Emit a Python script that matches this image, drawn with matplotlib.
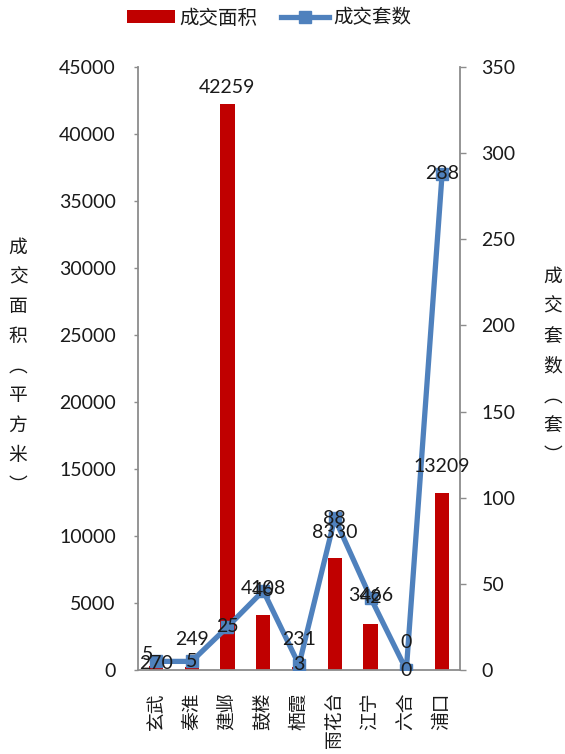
import matplotlib
matplotlib.use("Agg")
import matplotlib.pyplot as plt
from matplotlib.lines import Line2D
from matplotlib.patches import Patch

plt.rcParams['font.family'] = ['Lato', 'Noto Sans CJK SC', 'DejaVu Sans']

districts = ['玄武', '秦淮', '建邺', '鼓楼', '栖霞', '雨花台', '江宁', '六合', '浦口']
area = [270, 249, 42259, 4108, 231, 8330, 3466, 0, 13209]
units = [5, 5, 25, 46, 3, 88, 42, 0, 288]
area_ticks = list(range(0, 45001, 5000))
unit_ticks = list(range(0, 351, 50))

# label offsets (pixels) -- styling only
area_lbl_dy = [3, 27, 16, 26, 27, 26, 28, 27, 26]
unit_lbl_off = [(-8, 7), (0, 0), (0, 0), (0, 0), (0, 0), (0, 0), (0, 0), (0, 0), (0, 0)]

RED = '#C00000'
BLUE = '#4F81BD'
GRAY = '#8C8C8C'
TXT = '#1A1A1A'
PX = 72 / 100.0

fig = plt.figure(figsize=(5.65, 7.54), dpi=100)
ax = fig.add_axes([138 / 565, 84 / 754, 322 / 565, 603 / 754])
ax2 = ax.twinx()

x = list(range(len(districts)))
ax.bar(x, area, width=0.4, color=RED, zorder=2)
ax.set_xlim(-0.5, len(districts) - 0.5)
ax.set_ylim(0, 45000)
ax.set_yticks(area_ticks)
ax.set_yticklabels([str(t) for t in area_ticks])
ax.set_xticks(x)
ax.set_xticklabels(districts, rotation=90, fontsize=13.5, color=TXT,
                   family=['Noto Sans CJK SC'])

ax2.plot(x, units, color=BLUE, lw=3.8, marker='s', ms=8, mfc=BLUE, mec=BLUE,
         solid_joinstyle='round', zorder=3)
ax2.set_ylim(0, 350)
ax2.set_yticks(unit_ticks)
ax2.set_yticklabels([str(t) for t in unit_ticks])

for a in (ax, ax2):
    a.set_facecolor('none')
    a.spines['top'].set_visible(False)
    for s in ('left', 'right', 'bottom'):
        a.spines[s].set_color(GRAY)
        a.spines[s].set_linewidth(1.3)
ax.patch.set_facecolor('white')
ax.spines['right'].set_visible(False)
ax2.spines['left'].set_visible(False)
ax2.spines['bottom'].set_visible(False)

ax.tick_params(axis='y', direction='out', length=3, width=1, color=GRAY,
               labelsize=14, labelcolor=TXT, pad=13)
ax.tick_params(axis='x', length=0, pad=16)
ax2.tick_params(axis='y', direction='out', length=4, width=1, color=GRAY,
                labelsize=14, labelcolor=TXT, pad=11.5)

for i, v in enumerate(area):
    ax2.annotate(str(v), xy=(i, v), xycoords=ax.transData,
                 xytext=(0, area_lbl_dy[i] * PX), textcoords='offset points',
                 ha='center', va='center', fontsize=14, color=TXT,
                 annotation_clip=False, zorder=5)
for i, v in enumerate(units):
    dx, dy = unit_lbl_off[i]
    ax2.annotate(str(v), xy=(i, v), xycoords='data',
                 xytext=(dx * PX, dy * PX), textcoords='offset points',
                 ha='center', va='center', fontsize=14, color=TXT,
                 annotation_clip=False, zorder=5)

fig.text(18 / 565, 1 - 366 / 754, '成\n交\n面\n积\n︵\n平\n方\n米\n︶',
         ha='center', va='center', fontsize=13.5, color=TXT,
         family=['Noto Sans CJK SC'], linespacing=1.55)
fig.text(553 / 565, 1 - 366 / 754, '成\n交\n套\n数\n︵\n套\n︶',
         ha='center', va='center', fontsize=13.5, color=TXT,
         family=['Noto Sans CJK SC'], linespacing=1.55)

handles = [Patch(facecolor=RED, edgecolor='none', label='成交面积'),
           Line2D([0], [0], color=BLUE, lw=3.8, marker='s', ms=8, label='成交套数')]
leg = fig.legend(handles=handles, loc='center', bbox_to_anchor=(269 / 565, 1 - 18 / 754),
                 ncol=2, frameon=False, prop={'family': 'Noto Sans CJK SC', 'size': 14},
                 handlelength=2.5, handleheight=0.6, handletextpad=0.2,
                 columnspacing=1.2, labelcolor=TXT)

fig.savefig('out.png', dpi=100)
